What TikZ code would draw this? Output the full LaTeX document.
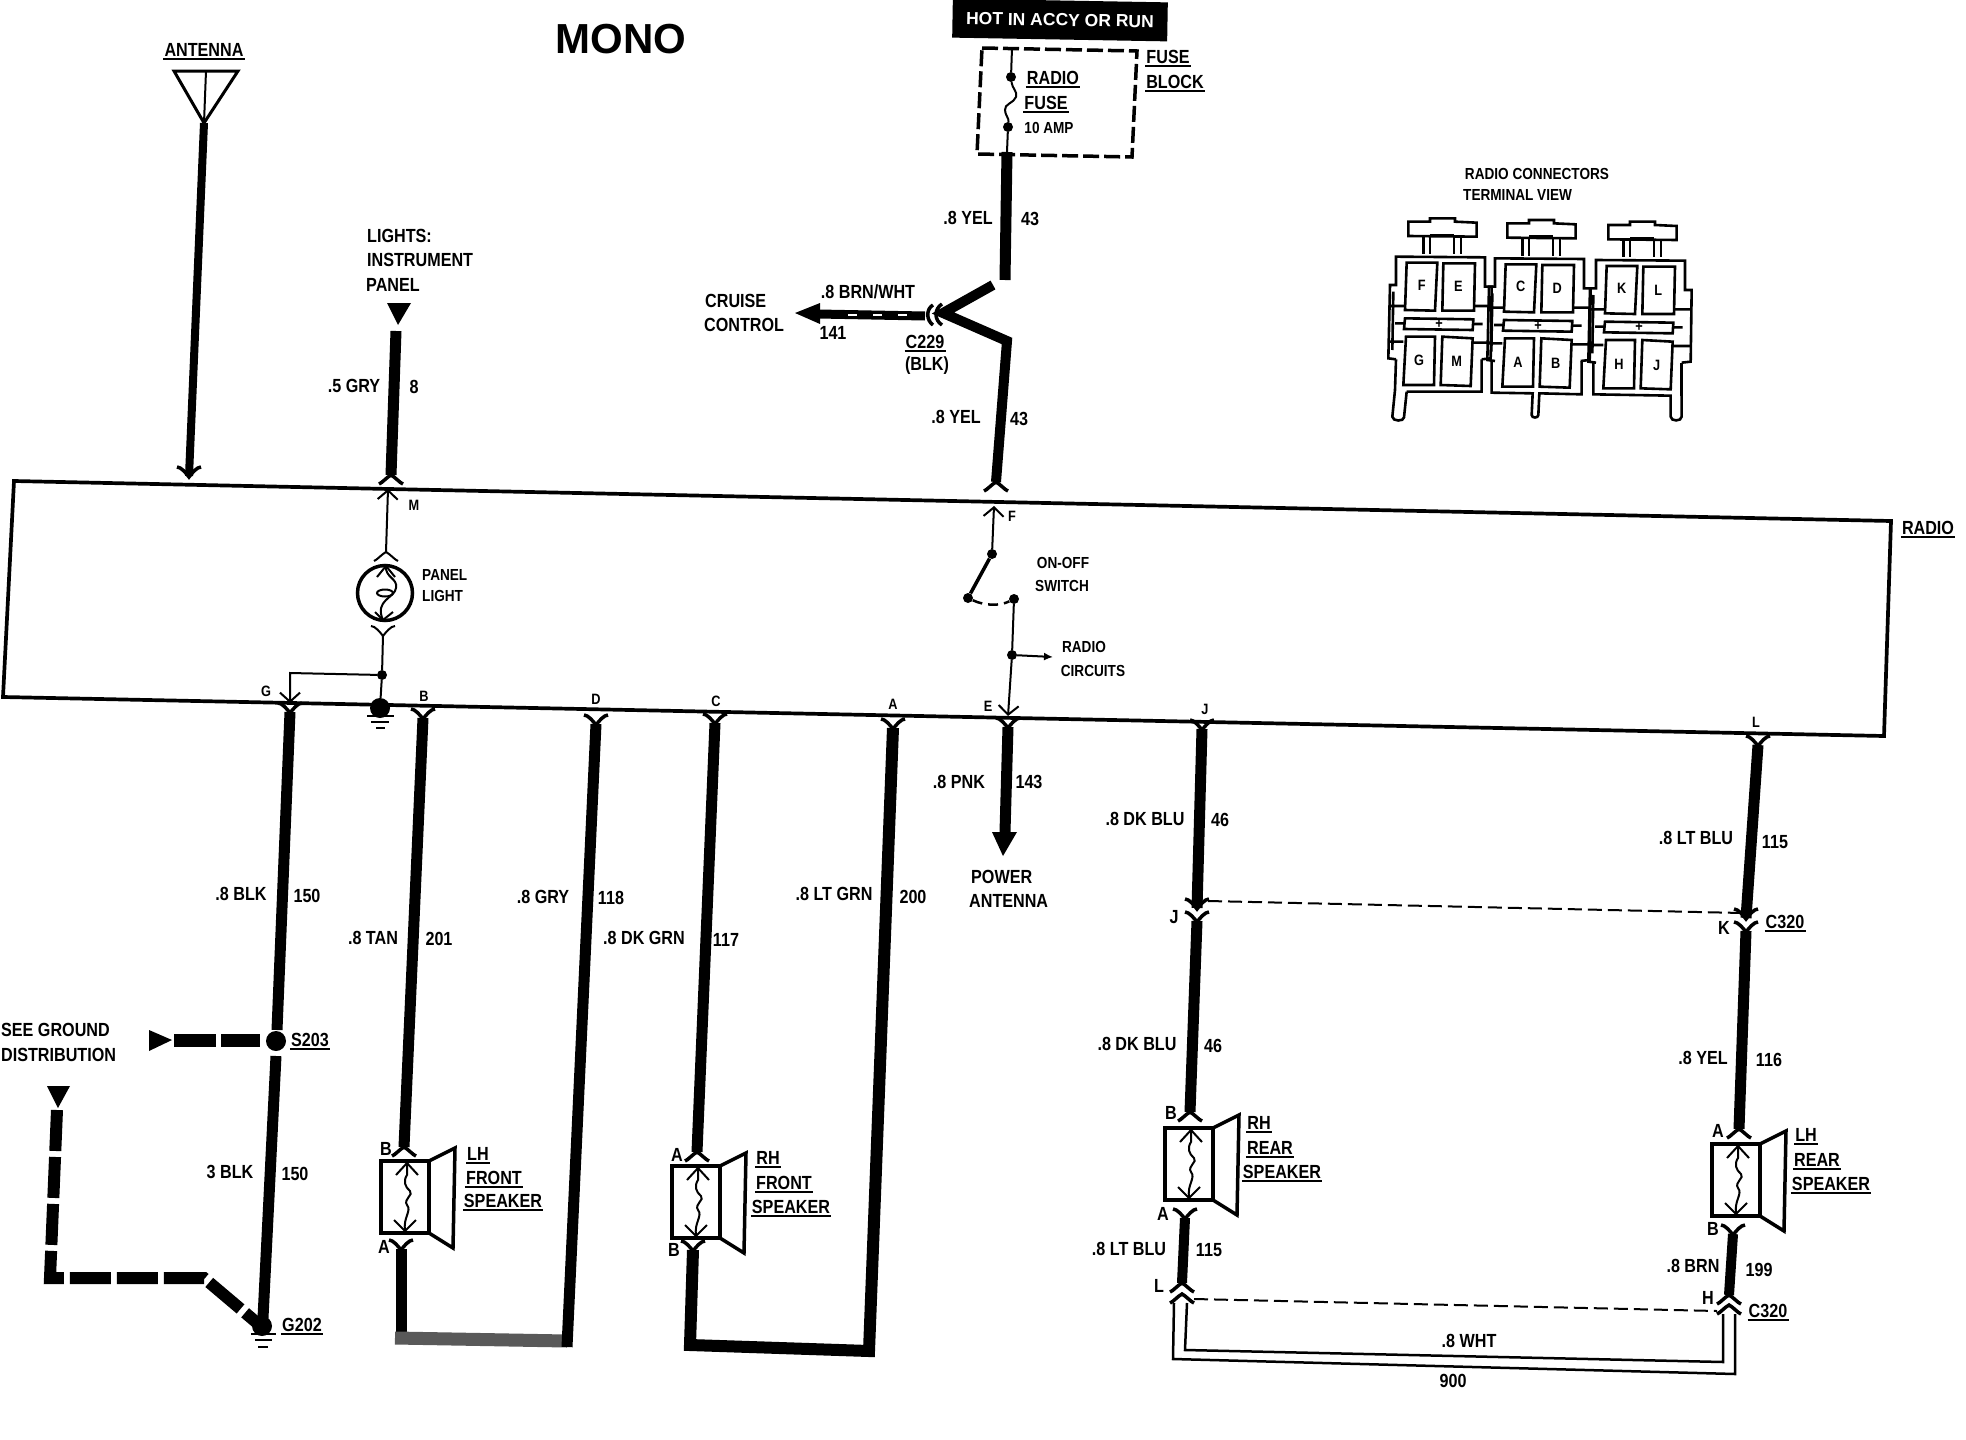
\documentclass[tikz,border=0pt]{standalone}
\usepackage{fontspec}
\setmainfont[FakeStretch=0.85]{Liberation Sans}
\newfontfamily\headfont{Liberation Sans}
\usetikzlibrary{arrows.meta}
\tikzset{
	wire/.style={line width=11pt},
	fine/.style={line width=2pt},
	whisk/.style={line width=3.5pt},
	pin/.style={fine,-{Straight Barb[length=9pt,width=20pt,line width=2pt]}},
	lbl/.style={font=\bfseries\fontsize{19}{21}\selectfont,inner sep=1pt},
	sml/.style={font=\bfseries\fontsize{16}{18}\selectfont,inner sep=1pt},
	ltr/.style={font=\bfseries\fontsize{15}{17}\selectfont,inner sep=1pt},
	ulbl/.style={lbl,append after command={([yshift=-1pt]\tikzlastnode.south west) edge[line width=2.2pt] ([yshift=-1pt]\tikzlastnode.south east)}},
	dotn/.style={circle,fill=black,inner sep=0pt,minimum size=#1},
	dotn/.default=10pt,
	termbox/.style={line width=2.6pt},
	speakerbox/.pic={
		\draw[line width=4pt,line join=miter] (0,0) -- (48,0) -- (48,72) -- (0,72) -- cycle;
		\draw[line width=3.5pt,line join=miter] (48,0) -- (74,-13) -- (72,87) -- (48,72);
		\draw[fine] (26,2) -- (26,14) .. controls (22,20) and (24,26) .. (29,30) .. controls (33,34) and (22,38) .. (26,44) .. controls (31,50) and (22,56) .. (24,70);
		\draw[fine] (15,14) -- (26,2) -- (37,14);
		\draw[fine] (13,59) -- (24,70) -- (35,59);
	}
}
\newcommand{\wireflare}[2][whisk]{\draw[#1] (#2) ++(-12,-9) .. controls +(4,0) and +(-3,-4) .. ++(12,10) .. controls +(3,-4) and +(-4,0) .. ++(12,-10);}
\newcommand{\wirearch}[2][whisk]{\draw[#1] (#2) ++(-12,9) .. controls +(3,-1) and +(-4,2) .. ++(12,-9) .. controls +(4,2) and +(-3,-1) .. ++(12,9);}
\begin{document}
\begin{tikzpicture}[x=1pt,y=-1pt]
	\useasboundingbox (0,0) rectangle (1966,1440);
	\fill[white] (0,0) rectangle (1966,1440);

	\coordinate (radiotl) at (14,481); \coordinate (radiotr) at (1891,521);
	\coordinate (radiobr) at (1884,736); \coordinate (radiobl) at (3,697);
	\draw[line width=3.7pt,line join=miter] (radiotl) -- (radiotr) -- (radiobr) -- (radiobl) -- cycle;
	\node[ulbl] (radiolbl) at (1928,528) {RADIO};

	\node[font=\headfont\bfseries\fontsize{42}{44}\selectfont,inner sep=0pt] (monolbl) at (621,39) {MONO};
	\node[fill=black,text=white,rotate=-1,minimum width=215pt,minimum height=39pt,inner sep=0pt,font=\headfont\bfseries\fontsize{17.5}{19}\selectfont] (hotlbl) at (1060,20) {HOT IN ACCY OR RUN};

	% antenna
	\coordinate (antl) at (174,71); \coordinate (antr) at (238,71); \coordinate (antm) at (206,71);
	\coordinate (antp) at (204,123); \coordinate (antend) at (189,476);
	\draw[line width=3pt,line join=miter] (antl) -- (antr) -- (antp) -- cycle;
	\draw[fine] (antm) -- (antp);
	\draw[line width=8pt] (antp) -- (antend);
	\wireflare{antend}
	\node[ulbl] (antlbl) at (204,50) {ANTENNA};

	% panel light feed
	\node[lbl,anchor=west] (lightsa) at (366,236) {LIGHTS:};
	\node[lbl,anchor=west] (lightsb) at (366,260) {INSTRUMENT};
	\node[lbl,anchor=west] (lightsc) at (365,285) {PANEL};
	\coordinate (feeda) at (387,303); \coordinate (feedb) at (411,303); \coordinate (feedc) at (398,325);
	\fill (feeda) -- (feedb) -- (feedc) -- cycle;
	\coordinate (grytop) at (396,331); \coordinate (grybot) at (391,475);
	\draw[wire] (grytop) -- (grybot);
	\wirearch{grybot}
	\node[lbl] (grya) at (354,386) {.5 GRY};
	\node[lbl] (gryb) at (414,387) {8};

	% panel light
	\coordinate (pinm) at (388,489); \coordinate (bulbt) at (386,552); \coordinate (bulbb) at (383,635);
	\draw[pin] (bulbt) -- (pinm);
	\wirearch[fine]{bulbt}
	\node[ltr] (mlbl) at (414,505) {M};
	\node[draw,circle,line width=3.5pt,minimum size=55pt,inner sep=0pt] (bulb) at (385,593) {};
	\draw[fine] (377,577) -- (386,566) -- (395,577);
	\draw[fine] (375,612) -- (383,620) -- (393,612);
	\draw[fine] (386,566) .. controls (385,578) and (398,578) .. (396,588) .. controls (395,598) and (374,600) .. (383,620);
	\draw[fine] (385,593) ellipse (8pt and 3.5pt);
	\node[sml,anchor=west] (panela) at (421,575) {PANEL};
	\node[sml,anchor=west] (panelb) at (421,596) {LIGHT};
	\wireflare[fine]{bulbb}
	\node[dotn] (lampdot) at (382,675) {};
	\node[dotn=20pt] (gnddot) at (380,708) {};
	\draw[fine] (bulbb) -- (lampdot) -- (gnddot);
	\coordinate (gcorner) at (290,673); \coordinate (ping) at (290,703);
	\draw[pin] (lampdot) -- (gcorner) -- (ping);
	\coordinate (gnda) at (367,716); \coordinate (gndb) at (394,716);
	\coordinate (gndc) at (371,722); \coordinate (gndd) at (389,722);
	\coordinate (gnde) at (376,728); \coordinate (gndf) at (385,728);
	\draw[fine] (gnda) -- (gndb) (gndc) -- (gndd) (gnde) -- (gndf);
	\node[ltr] (glbl) at (266,691) {G};

	% fuse block
	\coordinate (fba) at (982,48); \coordinate (fbb) at (1137,51); \coordinate (fbc) at (1132,157); \coordinate (fbd) at (977,154);
	\draw[line width=3.5pt,dash pattern=on 16pt off 5pt,line join=miter] (fba) -- (fbb) -- (fbc) -- (fbd) -- cycle;
	\coordinate (fusetop) at (1012,48); \coordinate (fusebot) at (1007,152);
	\node[dotn] (fusea) at (1011,77) {};
	\node[dotn] (fuseb) at (1008,127) {};
	\draw[fine] (fusetop) -- (fusea) .. controls (1012,88) and (1018,92) .. (1016,97) .. controls (1014,103) and (1004,104) .. (1005,110) .. controls (1005,115) and (1009,118) .. (fuseb) -- (fusebot);
	\node[ulbl] (radfuse) at (1053,78) {RADIO};
	\node[ulbl] (fusefuse) at (1046,103) {FUSE};
	\node[sml] (ampfuse) at (1049,128) {10 AMP};
	\node[ulbl] (fbfuse) at (1168,57) {FUSE};
	\node[ulbl] (fbblock) at (1175,82) {BLOCK};

	% yel wire and cruise
	\coordinate (yela) at (1005,280); \coordinate (splita) at (993,285); \coordinate (splitb) at (943,313);
	\coordinate (splitc) at (1007,341); \coordinate (yelb) at (996,482);
	\draw[line width=11pt] (fusebot) -- (yela);
	\draw[line width=10pt,line join=miter] (splita) -- (splitb) -- (splitc) -- (yelb);
	\wirearch{yelb}
	\node[lbl] (yela1) at (968,218) {.8 YEL};
	\node[lbl] (yela2) at (1030,219) {43};
	\node[lbl] (yelb1) at (956,417) {.8 YEL};
	\node[lbl] (yelb2) at (1019,419) {43};
	\coordinate (cctip) at (795,313); \coordinate (cchead) at (818,314); \coordinate (ccend) at (925,316);
	\fill (cctip) -- (820,303) -- (820,324) -- cycle;
	\draw[line width=9pt] (cchead) -- (ccend);
	\draw[white,line width=2pt,dash pattern=on 9pt off 16pt] (848,315) -- (908,315);
	\draw[whisk] (933,305) .. controls (926,309) and (926,320) .. (933,325);
	\draw[whisk] (942,304) .. controls (934,309) and (934,320) .. (942,325);
	\node[lbl] (ccwire) at (868,292) {.8 BRN/WHT};
	\node[lbl] (ccnum) at (833,333) {141};
	\node[ulbl] (cclbl) at (925,342) {C229};
	\node[lbl] (ccblk) at (927,366) {(BLK)};
	\node[lbl,anchor=west] (cca) at (704,301) {CRUISE};
	\node[lbl,anchor=west] (ccb) at (703,325) {CONTROL};

	% on-off switch
	\coordinate (pinf) at (994,506);
	\node[dotn] (swa) at (992,554) {};
	\node[dotn] (swb) at (968,598) {};
	\node[dotn] (swc) at (1014,599) {};
	\node[dotn] (swd) at (1012,655) {};
	\coordinate (pine) at (1008,716); \coordinate (circ) at (1053,657);
	\draw[pin] (swa) -- (pinf);
	\draw[line width=3.5pt] (swa) -- (swb);
	\draw[line width=2.5pt,dash pattern=on 10pt off 6pt] (swb) .. controls (985,606) and (1000,606) .. (swc);
	\draw[fine] (swc) -- (swd);
	\draw[pin] (swd) -- (pine);
	\draw[fine,-{Latex[length=9pt,width=8pt]}] (swd) -- (circ);
	\node[ltr] (flbl) at (1012,516) {F};
	\node[ltr] (elbl) at (988,706) {E};
	\node[sml] (onoffa) at (1063,563) {ON-OFF};
	\node[sml] (onoffb) at (1062,586) {SWITCH};
	\node[sml] (circa) at (1084,647) {RADIO};
	\node[sml] (circb) at (1093,671) {CIRCUITS};

	% pin letters bottom edge
	\node[ltr] (blbl) at (424,696) {B};
	\node[ltr] (dlbl) at (596,699) {D};
	\node[ltr] (clbl) at (716,701) {C};
	\node[ltr] (albl) at (893,704) {A};
	\node[ltr] (jlbl) at (1205,709) {J};
	\node[ltr] (llbl) at (1756,722) {L};

	% g wire
	\coordinate (gtop) at (290,712); \coordinate (gmid) at (277,1030); \coordinate (gmidb) at (276,1056); \coordinate (gbot) at (263,1318);
	\wireflare{gtop}
	\draw[wire] (gtop) -- (gmid) (gmidb) -- (gbot);
	\node[dotn=20pt] (sdot) at (276,1041) {};
	\node[dotn=20pt] (gdot) at (262,1326) {};
	\coordinate (gga) at (251,1334); \coordinate (ggb) at (276,1334);
	\coordinate (ggc) at (255,1340); \coordinate (ggd) at (272,1340);
	\coordinate (gge) at (258,1347); \coordinate (ggf) at (268,1347);
	\draw[fine] (gga) -- (ggb) (ggc) -- (ggd) (gge) -- (ggf);
	\node[lbl] (blka) at (241,894) {.8 BLK};
	\node[lbl] (blkb) at (307,896) {150};
	\node[lbl] (blkc) at (230,1172) {3 BLK};
	\node[lbl] (blkd) at (295,1174) {150};
	\node[ulbl] (slbl) at (310,1040) {S203};
	\node[ulbl] (glabel) at (302,1325) {G202};
	\node[lbl,anchor=west] (seea) at (0,1030) {SEE GROUND};
	\node[lbl,anchor=west] (seeb) at (0,1055) {DISTRIBUTION};
	\fill (149,1030) -- (149,1051) -- (172,1040) -- cycle;
	\coordinate (gsa) at (174,1040); \coordinate (gsb) at (260,1040);
	\draw[line width=13pt,dash pattern=on 42pt off 5pt] (gsa) -- (gsb);
	\fill (47,1086) -- (70,1086) -- (58,1108) -- cycle;
	\coordinate (gda) at (57,1110); \coordinate (gdb) at (50,1278); \coordinate (gdc) at (204,1278); \coordinate (gdd) at (256,1322);
	\draw[line width=12pt,dash pattern=on 41pt off 6pt,line join=miter] (gda) -- (gdb) -- (gdc) -- (gdd);

	% front speakers
	\coordinate (ltop) at (423,718); \coordinate (lbot) at (404,1147);
	\wireflare{ltop}
	\draw[wire] (ltop) -- (lbot);
	\wirearch{lbot}
	\pic (lhfront) at (381,1161) {speakerbox};
	\coordinate (lret) at (401,1249); \coordinate (lcorner) at (401,1338); \coordinate (dcorner) at (567,1341); \coordinate (dtop) at (596,724);
	\wireflare{lret}
	\draw[wire,line join=miter] (lret) -- (lcorner);
	\draw[black!65,line width=13pt] (395,1338) -- (dcorner);
	\draw[wire] (567,1347) -- (dtop);
	\wireflare{dtop}
	\node[lbl] (lhb) at (386,1149) {B};
	\node[lbl] (lha) at (384,1247) {A};
	\node[lbl] (tana) at (373,938) {.8 TAN};
	\node[lbl] (tanb) at (439,939) {201};
	\node[lbl] (grea) at (543,897) {.8 GRY};
	\node[lbl] (greb) at (611,898) {118};
	\node[ulbl] (lhfa) at (478,1154) {LH};
	\node[ulbl] (lhfb) at (494,1178) {FRONT};
	\node[ulbl] (lhfc) at (503,1201) {SPEAKER};

	\coordinate (rtop) at (715,723); \coordinate (rbot) at (697,1152);
	\wireflare{rtop}
	\draw[wire] (rtop) -- (rbot);
	\wirearch{rbot}
	\pic (rhfront) at (672,1166) {speakerbox};
	\coordinate (rret) at (693,1250); \coordinate (rcorner) at (690,1345); \coordinate (acorner) at (869,1351); \coordinate (atop) at (893,728);
	\wireflare{rret}
	\draw[line width=12pt,line join=miter] (rret) -- (rcorner) -- (acorner) -- (atop);
	\wireflare{atop}
	\node[lbl] (rha) at (677,1155) {A};
	\node[lbl] (rhb) at (674,1250) {B};
	\node[lbl] (dkga) at (644,938) {.8 DK GRN};
	\node[lbl] (dkgb) at (726,940) {117};
	\node[lbl] (ltga) at (834,894) {.8 LT GRN};
	\node[lbl] (ltgb) at (913,897) {200};
	\node[ulbl] (rhfa) at (768,1158) {RH};
	\node[ulbl] (rhfb) at (784,1183) {FRONT};
	\node[ulbl] (rhfc) at (791,1207) {SPEAKER};

	% power antenna
	\coordinate (etop) at (1008,727); \coordinate (ebot) at (1005,832);
	\wireflare{etop}
	\draw[wire] (etop) -- (ebot);
	\fill (992,832) -- (1017,832) -- (1003,856) -- cycle;
	\node[lbl] (pnka) at (959,782) {.8 PNK};
	\node[lbl] (pnkb) at (1029,782) {143};
	\node[lbl,anchor=west] (powa) at (970,877) {POWER};
	\node[lbl,anchor=west] (powb) at (968,901) {ANTENNA};

	% rear speakers
	\coordinate (jtop) at (1202,729); \coordinate (jmid) at (1197,908); \coordinate (jmidb) at (1197,921); \coordinate (jbot) at (1190,1112);
	\wireflare{jtop}
	\draw[wire] (jtop) -- (jmid);
	\wireflare{jmid}
	\wireflare{jmidb}
	\draw[wire] (jmidb) -- (jbot);
	\wirearch{jbot}
	\pic (rhrear) at (1165,1128) {speakerbox};
	\coordinate (jret) at (1185,1218); \coordinate (jretb) at (1182,1283);
	\wireflare{jret}
	\draw[line width=10pt] (jret) -- (jretb);
	\wirearch{jretb}
	\node[lbl] (dkba) at (1145,819) {.8 DK BLU};
	\node[lbl] (dkbb) at (1220,820) {46};
	\node[lbl] (jpin) at (1174,917) {J};
	\node[lbl] (dkbc) at (1137,1044) {.8 DK BLU};
	\node[lbl] (dkbd) at (1213,1046) {46};
	\node[lbl] (rrb) at (1171,1113) {B};
	\node[lbl] (rra) at (1163,1214) {A};
	\node[ulbl] (rhra) at (1259,1123) {RH};
	\node[ulbl] (rhrb) at (1270,1148) {REAR};
	\node[ulbl] (rhrc) at (1282,1172) {SPEAKER};
	\node[lbl] (lbla) at (1129,1249) {.8 LT BLU};
	\node[lbl] (lblb) at (1209,1250) {115};
	\node[lbl] (lpin) at (1159,1286) {L};

	\coordinate (ktop) at (1758,745); \coordinate (kmid) at (1746,918); \coordinate (kmidb) at (1746,931); \coordinate (kbot) at (1739,1129);
	\wireflare{ktop}
	\draw[wire] (ktop) -- (kmid);
	\wireflare{kmid}
	\wireflare{kmidb}
	\draw[wire] (kmidb) -- (kbot);
	\wirearch{kbot}
	\pic (lhrear) at (1712,1144) {speakerbox};
	\coordinate (kret) at (1733,1234); \coordinate (kretb) at (1729,1295);
	\wireflare{kret}
	\draw[line width=10pt] (kret) -- (kretb);
	\wirearch{kretb}
	\node[lbl] (ltba) at (1696,838) {.8 LT BLU};
	\node[lbl] (ltbb) at (1775,842) {115};
	\node[lbl] (kpin) at (1724,928) {K};
	\node[ulbl] (clab) at (1785,922) {C320};
	\node[lbl] (yeka) at (1703,1058) {.8 YEL};
	\node[lbl] (yekb) at (1769,1060) {116};
	\node[lbl] (lra) at (1718,1131) {A};
	\node[lbl] (lrb) at (1713,1229) {B};
	\node[ulbl] (lhra) at (1806,1135) {LH};
	\node[ulbl] (lhrb) at (1817,1160) {REAR};
	\node[ulbl] (lhrc) at (1831,1184) {SPEAKER};
	\node[lbl] (brna) at (1693,1266) {.8 BRN};
	\node[lbl] (brnb) at (1759,1270) {199};
	\node[lbl] (hpin) at (1708,1298) {H};
	\node[ulbl] (clac) at (1768,1311) {C320};

	% dashed ties and white wire
	\coordinate (tiea) at (1208,901); \coordinate (tieb) at (1742,913);
	\coordinate (tiec) at (1194,1299); \coordinate (tied) at (1717,1311);
	\draw[fine,dash pattern=on 14pt off 6pt] (tiea) -- (tieb) (tiec) -- (tied);
	\wirearch{1182,1294}
	\wirearch{1729,1305}
	\coordinate (whta) at (1174,1303); \coordinate (whtb) at (1173,1359); \coordinate (whtc) at (1735,1374); \coordinate (whtd) at (1735,1314);
	\coordinate (whte) at (1187,1303); \coordinate (whtf) at (1185,1350); \coordinate (whtg) at (1723,1362); \coordinate (whth) at (1723,1314);
	\draw[line width=2.5pt,line join=miter] (whta) -- (whtb) -- (whtc) -- (whtd);
	\draw[line width=2.5pt,line join=miter] (whte) -- (whtf) -- (whtg) -- (whth);
	\node[lbl] (whtlbl) at (1469,1341) {.8 WHT};
	\node[lbl] (whtnum) at (1453,1381) {900};

	% connector view
	\node[sml] (viewa) at (1537,174) {RADIO CONNECTORS};
	\node[sml,anchor=west] (viewb) at (1462,195) {TERMINAL VIEW};
	\begin{scope}[shift={(1380,150)},scale=1/3]
		\foreach \dx/\dy/\lta/\ltb/\ltc/\ltd in {0/0/F/E/G/M, 297/5/C/D/A/B, 600/10/K/L/H/J}{
			\begin{scope}[shift={(\dx,\dy)}]
				\draw[termbox] (85,215) -- (150,215) -- (150,205) -- (225,205) -- (225,215) -- (290,218) -- (290,260) -- (85,258) -- cycle;
				\draw[termbox] (130,258) -- (130,312) (150,258) -- (150,312) (222,258) -- (222,312) (243,258) -- (243,312);
				\draw[line width=3pt] (150,255) -- (222,255);
				\draw[termbox] (48,628) -- (25,625) -- (30,405) -- (48,405) -- (48,320) -- (315,322) -- (315,410) -- (335,410) -- (332,625) -- (305,628);
				\draw[termbox] (40,425) -- (37,600) (30,468) -- (75,468) (282,468) -- (332,468) (28,575) -- (70,575) (280,578) -- (332,578) (45,520) -- (72,520) (280,522) -- (308,522);
				\draw[termbox] (80,338) -- (172,338) -- (165,482) -- (75,480) -- cycle;
				\draw[termbox] (190,340) -- (285,340) -- (282,482) -- (187,482) -- cycle;
				\draw[termbox] (75,505) -- (280,508) -- (278,540) -- (72,537) -- cycle;
				\draw[termbox] (78,560) -- (165,560) -- (162,705) -- (70,705) -- cycle;
				\draw[termbox] (187,560) -- (278,565) -- (272,708) -- (182,705) -- cycle;
				\node[ltr] (term\lta) at (125,405) {\lta};
				\node[ltr] (term\ltb) at (235,410) {\ltb};
				\node[ltr] (term\ltc) at (117,632) {\ltc};
				\node[ltr] (term\ltd) at (230,635) {\ltd};
				\node[ltr] (plus\lta) at (177,522) {+};
			\end{scope}
		}
		\draw[termbox] (48,628) -- (45,720) (80,725) -- (305,725) -- (305,628);
		\draw[termbox] (45,720) -- (37,800) .. controls (37,815) and (72,815) .. (72,802) -- (80,725);
		\draw[termbox] (335,633) -- (335,728) -- (458,730) -- (455,795) .. controls (455,805) and (475,805) .. (475,795) -- (478,730) -- (605,733) -- (605,633);
		\draw[termbox] (640,638) -- (640,733) -- (872,737) -- (872,800) .. controls (872,815) and (905,815) .. (905,800) -- (905,738);
		\draw[termbox] (905,738) -- (905,638);
	\end{scope}
\end{tikzpicture}
\end{document}
